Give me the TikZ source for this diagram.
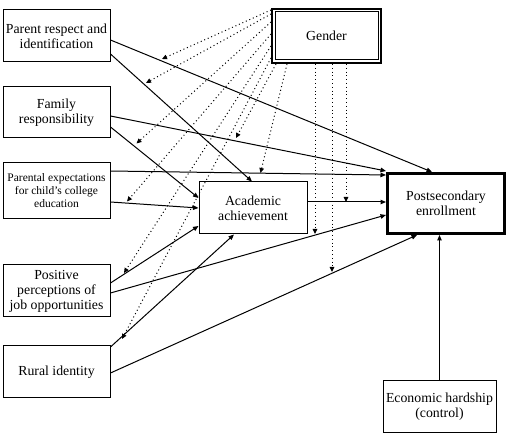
\documentclass[tikz,border=0pt]{standalone}
\usepackage{fontspec}
\setmainfont{Liberation Serif}
\usetikzlibrary{arrows.meta,calc}
\begin{document}
\begin{tikzpicture}[x=1pt,y=-1pt,
  box/.style={draw, line width=1pt, align=center, inner sep=1pt,
    font=\fontsize{13.8}{15}\selectfont},
  smallbox/.style={box, font=\fontsize{11.5}{13}\selectfont},
  sarrow/.style={line width=1pt, -{Triangle[length=5.5pt,width=4.5pt]}},
  darrow/.style={line width=1pt, dash pattern=on 1pt off 2.8pt,
    -{Triangle[length=5pt,width=4.5pt]}}]
\useasboundingbox (0,0) rectangle (512,435);
% nodes
\node[box, minimum width=107, minimum height=52] (pr) at (56.5,36) {Parent respect and\\identification};
\node[box, minimum width=107, minimum height=51] (fr) at (56.5,112.5) {Family\\responsibility};
\node[smallbox, minimum width=107, minimum height=56] (pe) at (56.5,191) {Parental expectations\\for child’s college\\education};
\node[box, minimum width=107, minimum height=52] (pp) at (56.5,291) {Positive\\perceptions of\\job opportunities};
\node[box, minimum width=107, minimum height=52] (ri) at (56.5,372) {Rural identity};
\node[box, line width=2pt, minimum width=109, minimum height=54] (g) at (326.5,36) {Gender};
\draw[line width=1pt] ([shift={(4,4)}]g.north west) rectangle ([shift={(-4,-4)}]g.south east);
\node[box, minimum width=108, minimum height=52] (aa) at (253,208) {Academic\\achievement};
\node[box, line width=3pt, minimum width=117, minimum height=60] (ps) at (446,203.5) {Postsecondary\\enrollment};
\node[box, minimum width=113, minimum height=52] (eh) at (439.5,407) {Economic hardship\\(control)};
% solid paths
\draw[sarrow] ([shift={(0,4)}]pr.east) -- ([shift={(-14,0)}]ps.north);
\draw[sarrow] ([shift={(0,18)}]pr.east) -- ([shift={(-1,0)}]aa.north);
\draw[sarrow] ([shift={(0,3.5)}]fr.east) -- ([shift={(0,-1)}]ps.north west);
\draw[sarrow] ([shift={(0,14.5)}]fr.east) -- ([shift={(0,-10)}]aa.west);
\draw[sarrow] ([shift={(0,-20)}]pe.east) -- ([shift={(0,-28.5)}]ps.west);
\draw[sarrow] ([shift={(0,11)}]pe.east) -- (aa.west);
\draw[sarrow] ([shift={(0,-6)}]aa.east) -- ([shift={(0,-1.5)}]ps.west);
\draw[sarrow] ([shift={(0,-8)}]pp.east) -- ([shift={(0,18)}]aa.west);
\draw[sarrow] ([shift={(0,2)}]pp.east) -- ([shift={(0,11.5)}]ps.west);
\draw[sarrow] ([shift={(0,-25)}]ri.east) -- ([shift={(-19,0)}]aa.south);
\draw[sarrow] ([shift={(0,1)}]ri.east) -- ([shift={(-29,0)}]ps.south);
\draw[sarrow] (eh.north) -- (eh.north |- ps.south);
% dotted moderation targets
\coordinate (t1) at (162,59);
\coordinate (t2) at (146,83);
\coordinate (t3) at (136.5,143.5);
\coordinate (t4) at (127,201.5);
\coordinate (t5) at (236,138);
\coordinate (t6) at (260.5,173);
\coordinate (t7) at (124,273);
\coordinate (t8) at (122,339);
\coordinate (t9) at (346,202);
\coordinate (t10) at (315,234);
\coordinate (t11) at (332,272);
\draw[darrow] ([shift={(0,-26)}]g.west) -- (t1);
\draw[darrow] ([shift={(0,-22)}]g.west) -- (t2);
\draw[darrow] ([shift={(0,-14)}]g.west) -- (t3);
\draw[darrow] ([shift={(0,-2)}]g.west) -- (t4);
\draw[darrow] ([shift={(0,10)}]g.west) -- (t7);
\draw[darrow] ([shift={(0,22)}]g.west) -- (t8);
\draw[darrow] ([shift={(-50.5,0)}]g.south) -- (t5);
\draw[darrow] ([shift={(-39.5,0)}]g.south) -- (t6);
\draw[darrow] ([shift={(19.5,0)}]g.south) -- (t9);
\draw[darrow] ([shift={(-11.5,0)}]g.south) -- (t10);
\draw[darrow] ([shift={(5.5,0)}]g.south) -- (t11);
\end{tikzpicture}
\end{document}
